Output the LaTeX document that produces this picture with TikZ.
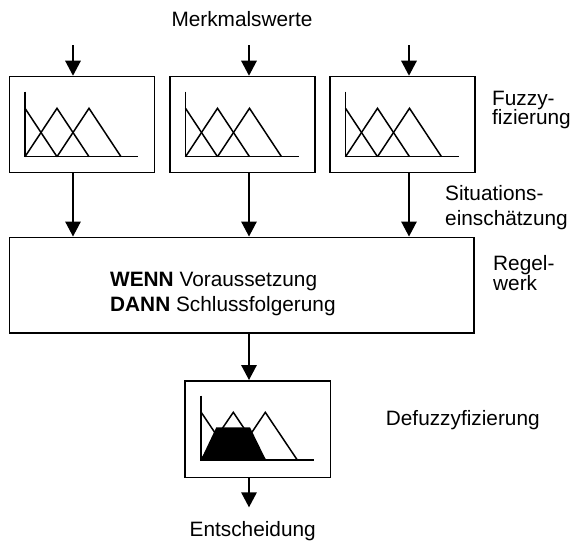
\documentclass[tikz,border=0pt]{standalone}
\usepackage{fontspec}
\setmainfont{Liberation Sans}
\usetikzlibrary{arrows.meta}
\newcommand\mfaxes{%
  \draw[mf] (16.5,16) -- (16.5,81) -- (129.5,81);}
\newcommand\mftris{%
  \draw[mf] (16.5,32.6) -- (48.5,81);
  \draw[mf] (16.5,81) -- (48.5,32.6) -- (80.5,81);
  \draw[mf] (48.5,81) -- (80.5,32.6) -- (112.5,81);}
\begin{document}
\begin{tikzpicture}[x=1pt,y=-1pt,
  every node/.style={font=\fontsize{20.8}{24}\selectfont, inner sep=0pt},
  box/.style={draw, line width=1.5pt, minimum width=145pt, minimum height=96pt, anchor=north west},
  arr/.style={line width=1.5pt, -{Triangle[width=15.5pt,length=15pt]}},
  lbl/.style={anchor=base west},
  mf/.style={line width=1.5pt, line join=miter}]
\useasboundingbox (0,0) rectangle (572,542);

% boxes
\node[box] (f1) at (8.5,75.7) {};
\node[box] (f2) at (169,75.7) {};
\node[box] (f3) at (329,75.7) {};
\node[box, minimum width=464.5pt, minimum height=95.5pt] (rule) at (8.5,236.5) {};
\node[box, minimum width=145.4pt, minimum height=96.7pt] (dz) at (184.3,380) {};

% membership plots
\begin{scope}[shift={(f1.north west)}]\mfaxes\mftris\end{scope}
\begin{scope}[shift={(f2.north west)}]\mfaxes\mftris\end{scope}
\begin{scope}[shift={(f3.north west)}]\mfaxes\mftris\end{scope}
\begin{scope}[shift={(dz.north west)}]
  \fill (16.5,80) -- (32,47.3) -- (65.7,47.3) -- (81.7,80) -- cycle;
  \draw[mf] (16.5,15.7) -- (16.5,80) -- (129.7,80);
  \draw[mf] (16.5,31.7) -- (49,80);
  \draw[mf] (16.5,80) -- (49,32.3) -- (81,80);
  \draw[mf] (49,80) -- (81,32.3) -- (113,80);
\end{scope}

% arrows
\coordinate (in1) at (73,45);
\coordinate (in2) at (249,45);
\coordinate (in3) at (409,45);
\coordinate (out) at (249,507.3);
\draw[arr] (in1) -- (in1 |- f1.north);
\draw[arr] (in2) -- (in2 |- f2.north);
\draw[arr] (in3) -- (in3 |- f3.north);
\draw[arr] (f1.south -| in1) -- (rule.north -| in1);
\draw[arr] (f2.south -| in2) -- (rule.north -| in2);
\draw[arr] (f3.south -| in3) -- (rule.north -| in3);
\draw[arr] (rule.south -| in2) -- (dz.north -| in2);
\draw[arr] (dz.south -| out) -- (out);

% labels
\node[anchor=base] (mw) at (242,26) {Merkmalswerte};
\node[lbl] (fz1) at (492,105) {Fuzzy-};
\node[lbl] (fz2) at (492,124.5) {fizierung};
\node[lbl] (si1) at (445,200) {Situations-};
\node[lbl] (si2) at (445,225) {einschätzung};
\node[lbl] (rw1) at (493,270) {Regel-};
\node[lbl] (rw2) at (493,290) {werk};
\node[lbl] (wenn) at (110,286) {\textbf{WENN} Voraussetzung};
\node[lbl] (dann) at (110,311.7) {\textbf{DANN} Schlussfolgerung};
\node[lbl] (df) at (385.7,425) {Defuzzyfizierung};
\node[anchor=base] (ent) at (252.7,536.7) {Entscheidung};
\end{tikzpicture}
\end{document}
